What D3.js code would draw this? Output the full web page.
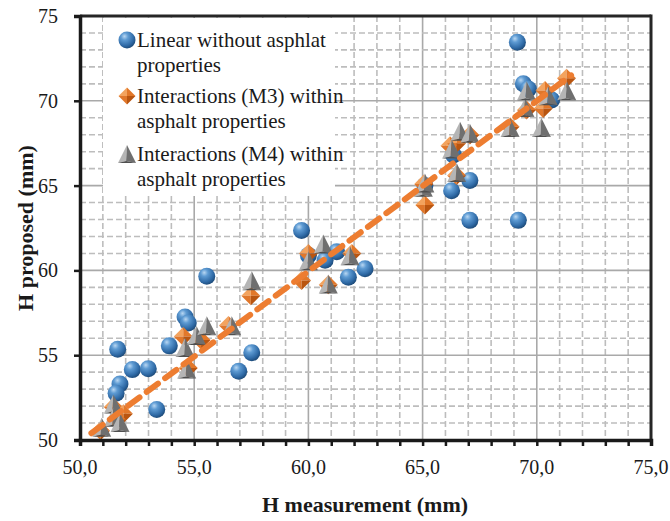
<!DOCTYPE html>
<html>
<head>
<meta charset="utf-8">
<script src="https://cdn.jsdelivr.net/npm/d3@7"></script>
<style>
  html, body { margin: 0; padding: 0; background: #ffffff; }
</style>
</head>
<body>
<svg id="chart" width="670" height="521"></svg>
<script>
// Linear model without asphalt properties: [measured, proposed]
const linearPts = [
  [51.65, 55.35], [51.75, 53.3], [51.58, 52.75], [52.29, 54.15], [52.99, 54.2],
  [53.36, 51.8], [54.6, 57.25], [54.74, 56.9], [53.91, 55.55], [57.52, 55.15],
  [56.95, 54.05], [55.55, 59.65], [59.7, 62.35], [60.0, 60.9], [60.73, 60.6],
  [61.24, 61.1], [61.75, 59.6], [62.48, 60.1], [66.27, 64.7], [67.07, 65.3],
  [67.07, 62.95], [69.19, 62.95], [66.35, 66.8], [69.15, 73.45], [69.41, 71.0],
  [69.63, 70.7], [70.65, 70.05], [65.1, 65.0]
];
// Interaction model M3 within asphalt properties
const m3Pts = [
  [50.9, 50.55], [51.46, 51.95], [51.9, 51.55], [51.6, 51.2], [54.52, 56.1],
  [54.74, 54.25], [55.3, 55.9], [56.5, 56.75], [57.48, 58.5], [60.0, 61.0],
  [59.7, 59.4], [60.87, 59.15], [61.9, 61.0], [65.1, 63.85], [65.05, 65.1],
  [66.49, 65.6], [66.2, 67.35], [66.49, 67.5], [67.07, 67.98], [68.83, 68.47],
  [69.55, 69.46], [70.28, 69.55], [70.36, 70.6], [71.3, 71.33]
];
// Interaction model M4 within asphalt properties
const m4Pts = [
  [50.95, 50.7], [51.46, 52.06], [51.46, 51.28], [51.75, 50.98], [54.6, 55.4],
  [54.67, 54.13], [55.1, 56.1], [55.55, 56.68], [56.64, 56.68], [57.52, 59.33],
  [60.65, 61.5], [60.0, 60.51], [60.87, 59.14], [61.82, 60.8], [65.03, 64.84],
  [65.1, 65.1], [66.49, 65.72], [66.27, 67.1], [66.64, 68.15], [67.07, 68.03],
  [68.83, 68.37], [70.2, 68.37], [69.48, 69.55], [69.55, 70.54], [70.5, 70.24],
  [71.31, 70.54]
];
// Linear trendline endpoints
const trendX = [50.5, 71.5];
const trendY = [50.4, 71.5];

const xTicks = [50, 55, 60, 65, 70, 75];
const yTicks = [50, 55, 60, 65, 70, 75];
const legendLines = [
  ["Linear without asphlat", "properties"],
  ["Interactions (M3) within", "asphalt properties"],
  ["Interactions (M4) within", "asphalt properties"]
];

const FONT = "'Liberation Serif'";
const svg = d3.select("#chart");
const x = d3.scaleLinear().domain([50, 75]).range([80, 651]);
const y = d3.scaleLinear().domain([50, 75]).range([440, 16]);

// ---- gradients
const defs = svg.append("defs");
const sph = defs.append("radialGradient").attr("id", "sphere")
  .attr("cx", "38%").attr("cy", "32%").attr("r", "70%").attr("fx", "35%").attr("fy", "28%");
sph.append("stop").attr("offset", "0%").attr("stop-color", "#b9d7f2");
sph.append("stop").attr("offset", "30%").attr("stop-color", "#5e9bd3");
sph.append("stop").attr("offset", "75%").attr("stop-color", "#2f6aa6");
sph.append("stop").attr("offset", "100%").attr("stop-color", "#1d4a78");

// ---- grid
const g = svg.append("g");
const units = d3.range(51, 75);
g.selectAll("line.vgrid").data(units).join("line")
  .attr("x1", d => x(d)).attr("x2", d => x(d)).attr("y1", y(75)).attr("y2", y(50))
  .attr("stroke", d => d % 5 === 0 ? "#a9a9a9" : "#bdbdbd")
  .attr("stroke-width", 1.6)
  .attr("stroke-dasharray", d => d % 5 === 0 ? null : "6,3");
g.selectAll("line.hgrid").data(units).join("line")
  .attr("y1", d => y(d)).attr("y2", d => y(d)).attr("x1", x(50)).attr("x2", x(75))
  .attr("stroke", d => d % 5 === 0 ? "#a9a9a9" : "#bdbdbd")
  .attr("stroke-width", 1.6)
  .attr("stroke-dasharray", d => d % 5 === 0 ? null : "6,3");

// ---- legend background
svg.append("rect").attr("x", 103).attr("y", 18).attr("width", 232).attr("height", 178)
  .attr("fill", "#ffffff");

// ---- marker painters
function drawSphere(sel, cx, cy, r) {
  sel.append("circle").attr("cx", cx).attr("cy", cy).attr("r", r).attr("fill", "url(#sphere)");
}
function drawDiamond(sel, cx, cy, s) {
  const h = s / 2;
  const grp = sel.append("g").attr("transform", `translate(${cx},${cy})`);
  grp.append("path").attr("d", `M${-h},0 L0,${-h} L0,0 Z`).attr("fill", "#f3a35e");
  grp.append("path").attr("d", `M0,${-h} L${h},0 L0,0 Z`).attr("fill", "#e2782a");
  grp.append("path").attr("d", `M${-h},0 L0,${h} L0,0 Z`).attr("fill", "#e0772b");
  grp.append("path").attr("d", `M0,0 L${h},0 L0,${h} Z`).attr("fill", "#b95510");
}
function drawPyramid(sel, cx, cy, s) {
  const h = s / 2;
  const grp = sel.append("g").attr("transform", `translate(${cx},${cy})`);
  grp.append("path").attr("d", `M0,${-h - 1} L${-h},${h - 1} L${-h * 0.1},${h - 3} Z`).attr("fill", "#b5b5b5");
  grp.append("path").attr("d", `M0,${-h - 1} L${-h * 0.1},${h - 3} L${h},${h - 1} Z`).attr("fill", "#6f6f6f");
  grp.append("path").attr("d", `M${-h},${h - 1} L${-h * 0.1},${h - 3} L${h},${h - 1} Z`).attr("fill", "#4f4f4f");
}

// ---- series
const marks = svg.append("g");
linearPts.forEach(([a, b]) => drawSphere(marks, x(a), y(b), 8.5));
m3Pts.forEach(([a, b]) => drawDiamond(marks, x(a), y(b), 19));
m4Pts.forEach(([a, b]) => drawPyramid(marks, x(a), y(b), 19));

// ---- trendline
svg.append("line")
  .attr("x1", x(trendX[0])).attr("y1", y(trendY[0]))
  .attr("x2", x(trendX[1])).attr("y2", y(trendY[1]))
  .attr("stroke", "#ed7d31").attr("stroke-width", 6)
  .attr("stroke-dasharray", "14,9").attr("stroke-linecap", "round");

// ---- frame
svg.append("line").attr("x1", x(50)).attr("x2", x(75)).attr("y1", y(75)).attr("y2", y(75))
  .attr("stroke", "#262626").attr("stroke-width", 3);
svg.append("line").attr("x1", x(75)).attr("x2", x(75)).attr("y1", y(75) - 1.5).attr("y2", y(50))
  .attr("stroke", "#262626").attr("stroke-width", 3);

// ---- axes
const xAxis = d3.axisBottom(x).tickValues(d3.range(50, 76)).tickSize(6).tickFormat("");
const xa = svg.append("g").attr("transform", `translate(0,${y(50)})`).call(xAxis);
xa.select(".domain").attr("stroke", "#1a1a1a").attr("stroke-width", 3.5);
xa.selectAll(".tick line").attr("stroke", "#1a1a1a").attr("stroke-width", 2.5);

const yAxis = d3.axisLeft(y).tickValues(yTicks).tickSize(6).tickFormat("");
const ya = svg.append("g").attr("transform", `translate(${x(50)},0)`).call(yAxis);
ya.select(".domain").attr("stroke", "#1a1a1a").attr("stroke-width", 3.5);
ya.selectAll(".tick line").attr("stroke", "#1a1a1a").attr("stroke-width", 2.5);

// tick labels
svg.selectAll("text.xt").data(xTicks).join("text")
  .attr("x", d => x(d)).attr("y", 474).attr("text-anchor", "middle")
  .style("font-family", FONT).attr("font-size", 20).attr("fill", "#1a1a1a")
  .text(d => d3.format(".1f")(d).replace(".", ","));
svg.selectAll("text.yt").data(yTicks).join("text")
  .attr("x", 58).attr("y", d => y(d) + 7).attr("text-anchor", "end")
  .style("font-family", FONT).attr("font-size", 20).attr("fill", "#1a1a1a")
  .text(d => d);

// axis titles
svg.append("text").attr("x", 365).attr("y", 512).attr("text-anchor", "middle")
  .style("font-family", FONT).attr("font-size", 22).attr("font-weight", "bold").attr("fill", "#1a1a1a")
  .text("H measurement (mm)");
svg.append("text").attr("transform", `translate(33,${y(62.5)}) rotate(-90)`)
  .attr("text-anchor", "middle")
  .style("font-family", FONT).attr("font-size", 22).attr("font-weight", "bold").attr("fill", "#1a1a1a")
  .text("H proposed (mm)");

// ---- legend
const lg = svg.append("g");
const rowY = [47, 103, 161];
drawSphere(lg, 127, 40, 8.5);
drawDiamond(lg, 127, 96, 17);
drawPyramid(lg, 127, 155, 18);
legendLines.forEach((lines, i) => {
  lines.forEach((t, j) => {
    lg.append("text").attr("x", 137).attr("y", rowY[i] + j * 25)
      .style("font-family", FONT).attr("font-size", 21).attr("fill", "#1a1a1a").text(t);
  });
});
</script>
</body>
</html>
